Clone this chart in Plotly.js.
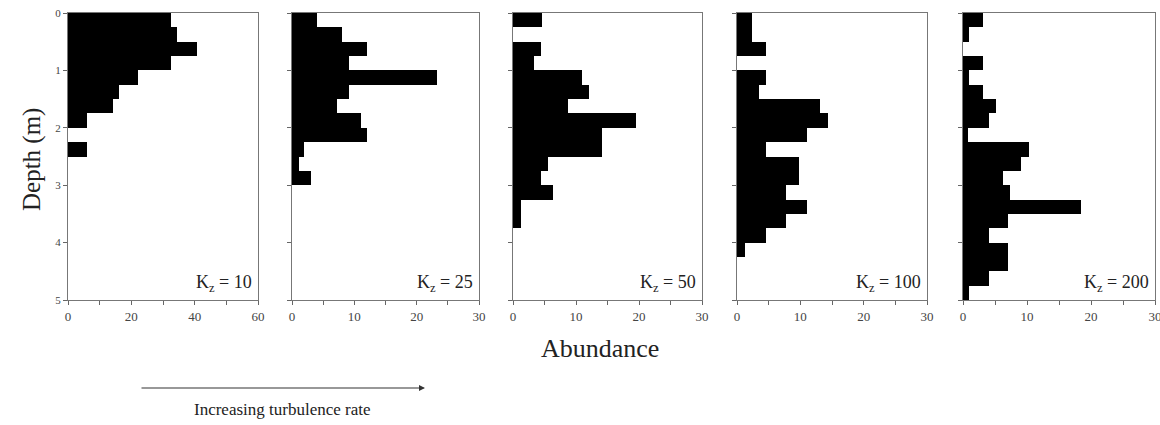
<!DOCTYPE html>
<html><head><meta charset="utf-8">
<script src="https://cdn.plot.ly/plotly-3.0.1.min.js"></script>
<style>html,body{margin:0;padding:0;background:#fff}#c{width:1160px;height:425px}</style>
</head><body><div id="c"></div>
<script>
// depth bin centres (m), 0.25 m bins
const depthBins = [0.125,0.375,0.625,0.875,1.125,1.375,1.625,1.875,2.125,2.375,2.625,2.875,3.125,3.375,3.625,3.875,4.125,4.375,4.625,4.875];
// abundance per bin for each turbulence rate
const k10  = [32.5,34.5,40.7,32.5,22.2,16.0,14.1,6.0,0,6.0,0,0,0,0,0,0,0,0,0,0];
const k25  = [4.0,8.1,12.0,9.1,23.2,9.1,7.2,11.1,12.0,2.0,1.1,3.0,0,0,0,0,0,0,0,0];
const k50  = [4.6,0,4.5,3.4,10.9,12.1,8.8,19.6,14.2,14.2,5.6,4.5,6.4,1.2,1.2,0,0,0,0,0];
const k100 = [2.4,2.4,4.6,0,4.5,3.4,13.1,14.4,11.1,4.5,9.8,9.8,7.7,11.0,7.7,4.5,1.2,0,0,0];
const k200 = [3.1,1.0,0,3.1,0.9,3.1,5.1,4.1,0.8,10.3,9.0,6.3,7.3,18.5,7.1,4.1,7.1,7.1,4.0,0.9];
const panelLabels = ['10','25','50','100','200'];
const xMax = [60,30,30,30,30];
const series = [k10,k25,k50,k100,k200];

const W = 1160, H = 425;
const px = [[68,258],[292,479],[513,702],[737,927],[963,1155]];
const yTop = 13, yBot = 300;
const serif = 'Liberation Serif, Times New Roman, serif';

const data = [];
const layout = {
  width: W, height: H, margin:{l:0,r:0,t:0,b:0},
  paper_bgcolor:'#fff', plot_bgcolor:'#fff', showlegend:false,
  bargap:0, font:{family:serif, color:'#222'}, annotations:[]
};
series.forEach((s,i)=>{
  const n = i===0 ? '' : String(i+1);
  data.push({type:'bar', orientation:'h', x:s, y:depthBins, width:0.25,
    xaxis:'x'+n, yaxis:'y'+n, marker:{color:'#000', line:{width:0}}, hoverinfo:'x+y'});
  const big = xMax[i]===60;
  layout['xaxis'+n] = {domain:[px[i][0]/W, px[i][1]/W], range:[0,xMax[i]], anchor:'y'+n,
    tick0:0, dtick: big ? 20 : 10, ticks:'outside', ticklen:4, tickcolor:'#666',
    minor:{dtick: big ? 10 : 5, ticks:'outside', ticklen:4, tickcolor:'#666', showgrid:false},
    showline:true, linecolor:'#777', linewidth:1, mirror:true, showgrid:false, zeroline:false,
    ticklabeloverflow:'allow',
    tickfont:{family:serif, size:13, color:'#444'}, fixedrange:true};
  layout['yaxis'+n] = {domain:[1-yBot/H, 1-yTop/H], range:[5,0], anchor:'x'+n,
    tick0:0, dtick:1, ticks:'outside', ticklen:4, tickcolor:'#666',
    showticklabels: i===0, showline:true, linecolor:'#777', linewidth:1, mirror:true,
    showgrid:false, zeroline:false, tickfont:{family:serif, size:11, color:'#444'}, fixedrange:true};
  layout.annotations.push({xref:'x'+n+' domain', yref:'paper', x:0.98, y:1-283/H,
    xanchor:'right', yanchor:'middle', showarrow:false,
    text:'K<sub>z</sub> = '+panelLabels[i], font:{family:serif, size:18, color:'#222'}});
});
layout.annotations.push({xref:'paper', yref:'paper', x:32/W, y:1-160/H, textangle:-90,
  xanchor:'center', yanchor:'middle',
  showarrow:false, text:'Depth (m)', font:{family:serif, size:25, color:'#222'}});
layout.annotations.push({xref:'paper', yref:'paper', x:600/W, y:1-348/H,
  xanchor:'center', yanchor:'middle',
  showarrow:false, text:'Abundance', font:{family:serif, size:26, color:'#222'}});
layout.annotations.push({xref:'paper', yref:'paper', x:282/W, y:1-409/H,
  xanchor:'center', yanchor:'middle',
  showarrow:false, text:'Increasing turbulence rate', font:{family:serif, size:17, color:'#222'}});
layout.annotations.push({xref:'paper', yref:'paper', x:425/W, y:1-388/H, ax:-285, ay:0,
  showarrow:true, arrowhead:2, arrowsize:1, arrowwidth:1.2, arrowcolor:'#333', text:''});

Plotly.newPlot('c', data, layout, {staticPlot:true, displayModeBar:false});
</script></body></html>
